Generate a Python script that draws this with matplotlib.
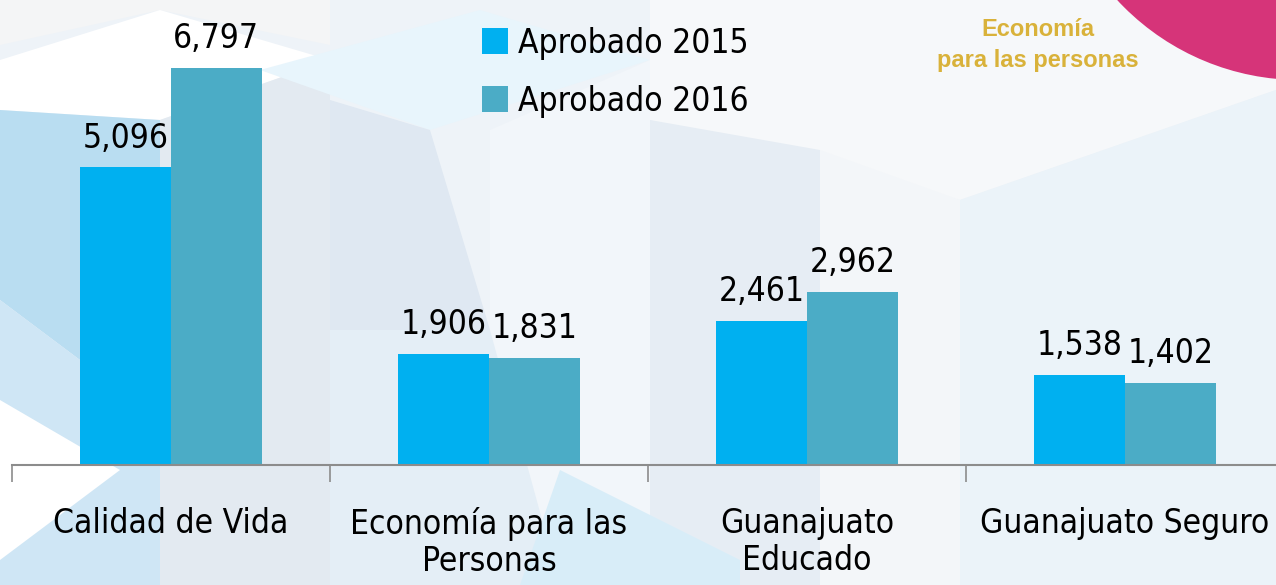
import matplotlib.pyplot as plt
import numpy as np
from matplotlib.patches import Polygon, Circle

# data
categorias = ["Calidad de Vida", "Economía para las\nPersonas", "Guanajuato\nEducado", "Guanajuato Seguro"]
aprobado_2015 = [5096, 1906, 2461, 1538]
aprobado_2016 = [6797, 1831, 2962, 1402]
series_names = ["Aprobado 2015", "Aprobado 2016"]
colors = ["#00B0F0", "#4BACC6"]

plt.rcParams['font.family'] = ['DejaVu Sans']
plt.rcParams['font.stretch'] = 'condensed'

W, H = 1276, 585
fig = plt.figure(figsize=(W / 100, H / 100), dpi=100)
fig.patch.set_facecolor("#EEF3F8")

# background facets (pixel coords, y from top)
bg = fig.add_axes([0, 0, 1, 1], zorder=-10)
bg.set_xlim(0, W)
bg.set_ylim(H, 0)
bg.axis("off")
facets = [
    ([(0, 0), (330, 0), (330, 45), (160, 10), (0, 45)], "#F4F5F6"),
    ([(0, 60), (160, 10), (330, 60), (160, 120), (0, 110)], "#FFFFFF"),
    ([(0, 110), (160, 120), (160, 420), (0, 300)], "#B9DDF1"),
    ([(0, 300), (160, 420), (160, 585), (0, 585)], "#CFE6F5"),
    ([(160, 120), (330, 60), (330, 585), (160, 585)], "#E3EAF1"),
    ([(260, 70), (480, 10), (650, 60), (430, 130)], "#E8F5FC"),
    ([(330, 100), (430, 130), (490, 330), (330, 330)], "#DFE8F2"),
    ([(490, 130), (650, 60), (650, 585), (490, 585)], "#F2F6FA"),
    ([(650, 0), (1276, 0), (1276, 90), (960, 200), (650, 120)], "#F6F8FA"),
    ([(650, 120), (820, 150), (820, 585), (650, 585)], "#E6EDF4"),
    ([(820, 150), (960, 200), (960, 585), (820, 585)], "#F3F6F9"),
    ([(960, 200), (1276, 90), (1276, 585), (960, 585)], "#EBF3F9"),
    ([(330, 330), (490, 330), (560, 585), (330, 585)], "#E4EEF6"),
    ([(560, 470), (740, 560), (740, 585), (520, 585)], "#D8EDF8"),
    ([(0, 400), (120, 470), (0, 560)], "#FFFFFF"),
]
for pts, c in facets:
    bg.add_patch(Polygon(pts, closed=True, facecolor=c, edgecolor="none"))
bg.add_patch(Circle((1300, -169), 249, facecolor="#D63479", edgecolor="none"))
bg.text(1038, 29, "Economía", color="#D9B23A", fontsize=17, fontweight="bold",
        ha="center", va="center", family=["Liberation Sans", "DejaVu Sans"])
bg.text(1038, 61, "para las personas", color="#D9B23A", fontsize=17, fontweight="bold",
        ha="center", va="center", family=["Liberation Sans", "DejaVu Sans"])

# main axes: category bounds at x=12, 330, 648, 965 px
left = 12 / W
bottom = (H - 465) / H
ax = fig.add_axes([left, bottom, 1 - left, 465 / H])
ax.patch.set_alpha(0)
x = np.arange(len(categorias))
bw = 0.285
ax.set_xlim(-0.5, (W - 12) / 318 - 0.5)
ax.set_ylim(0, 6797 * 465 / 397)

for i, (vals, name) in enumerate(zip([aprobado_2015, aprobado_2016], series_names)):
    xs = x + (i - 0.5) * bw
    ax.bar(xs, vals, bw, color=colors[i], label=name, edgecolor="none")
    for xi, v in zip(xs, vals):
        ax.text(xi, v + 220, f"{v:,}", ha="center", va="bottom", fontsize=24, color="black")

for s in ["top", "right", "left"]:
    ax.spines[s].set_visible(False)
ax.spines["bottom"].set_color("#8C8C8C")
ax.spines["bottom"].set_linewidth(1.5)
ax.set_yticks([])
ax.set_xticks(np.arange(-0.5, 3.5, 1.0), minor=False)
ax.set_xticklabels([])
ax.tick_params(axis="x", length=12, color="#8C8C8C", width=1.2)
for xi, lab in zip(x, categorias):
    ax.text(xi, -0.09, lab, transform=ax.get_xaxis_transform(), ha="center", va="top",
            fontsize=24, linespacing=1.15)

ax.legend(loc="upper left", bbox_to_anchor=(455 / W, 1.0), bbox_transform=fig.transFigure,
          frameon=False, fontsize=24, handlelength=0.8, handleheight=0.8,
          handletextpad=0.3, labelspacing=0.75, borderaxespad=0.4)

fig.savefig("out.png", dpi=100, facecolor=fig.get_facecolor())
